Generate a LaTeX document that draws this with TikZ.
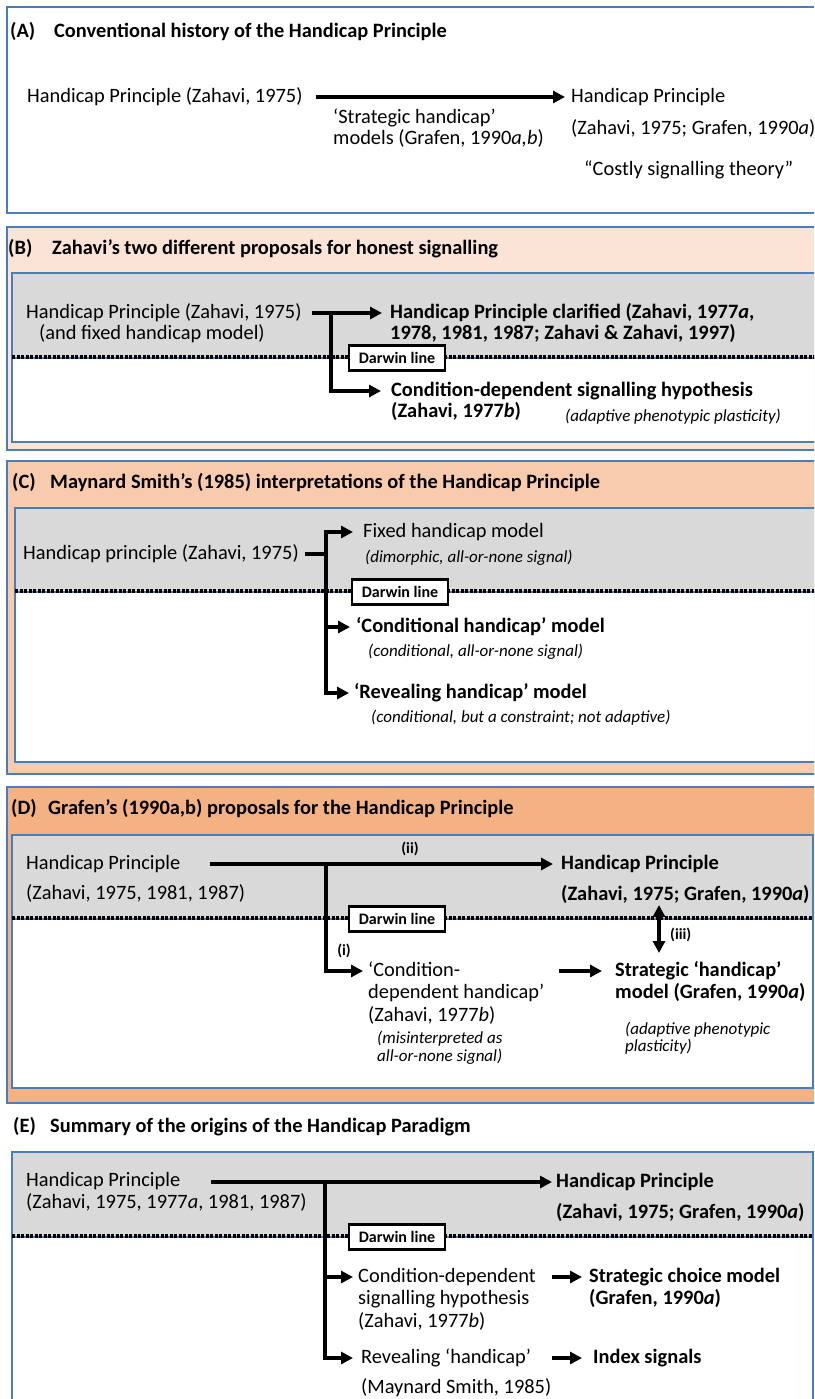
\documentclass[tikz,border=0pt]{standalone}
\usepackage{fontspec}
\setmainfont{Carlito}
\usetikzlibrary{arrows.meta}
\definecolor{bord}{HTML}{4A7EBB}
\definecolor{peachB}{HTML}{FBE3D6}
\definecolor{peachC}{HTML}{F8CBAD}
\definecolor{peachD}{HTML}{F4B183}
\definecolor{greyb}{HTML}{D9D9D9}
\tikzset{
  txt/.style={anchor=west, inner sep=0pt, text height=15pt, text depth=4pt, font=\fontsize{20.4}{24}\selectfont},
  bld/.style={txt, font=\fontsize{20.4}{24}\selectfont\bfseries},
  ttl/.style={txt, font=\fontsize{20.4}{24}\selectfont\bfseries},
  note/.style={anchor=west, inner sep=0pt, text height=13pt, text depth=3.5pt, font=\fontsize{17}{20}\selectfont\itshape},
  lab/.style={inner sep=0pt, text height=11pt, text depth=3pt, font=\fontsize{15.5}{18}\selectfont\bfseries},
  darwin/.style={draw=black, line width=2.2pt, fill=white, minimum width=96pt, minimum height=25pt, inner sep=0pt, font=\fontsize{16}{18}\selectfont\bfseries},
  arr/.style={line width=3.4pt, line join=miter, -{Triangle[length=12pt,width=12pt]}},
  darr/.style={line width=3.4pt, {Triangle[length=12pt,width=12pt]}-{Triangle[length=12pt,width=12pt]}},
  conn/.style={line width=3.4pt},
  panel/.style={draw=bord, line width=2.2pt},
  dlineblue/.style={draw=bord, line width=2pt},
  dlinedots/.style={draw=black, line width=3.6pt, dash pattern=on 3pt off 1.5pt}
}
\begin{document}
\begin{tikzpicture}[x=1pt,y=-1pt]
\useasboundingbox (0,0) rectangle (814,1399);
\clip (0,0) rectangle (814,1399);
\fill[white] (0,0) rectangle (814,1399);

% ---------------- Panel A ----------------
\draw[panel, fill=white] (7,7) rectangle (840,213);
\node[ttl] (tA) at (10,32) {\makebox[44pt][l]{(A)}Conventional history of the Handicap Principle};
\node[txt] (a1) at (27,97) {Handicap Principle (Zahavi, 1975)};
\node[txt] (a2) at (571,97) {Handicap Principle};
\node[txt] (a3) at (571,129) {(Zahavi, 1975; Grafen, 1990\textit{a})};
\node[txt] (a4) at (333,118) {‘Strategic handicap’};
\node[txt] (a5) at (333,139) {models (Grafen, 1990\textit{a,b})};
\node[txt] (a6) at (584,170) {“Costly signalling theory”};
\draw[arr] ([xshift=13pt]a1.east) -- ([xshift=-6pt]a2.west);

% ---------------- Panel B ----------------
\draw[panel, fill=peachB] (7,227) rectangle (840,450);
\node[ttl] (tB) at (8,249) {\makebox[44pt][l]{(B)}Zahavi’s two different proposals for honest signalling};
\fill[white] (12,273) rectangle (820,442);
\fill[greyb] (12,273) rectangle (820,357);
\draw[panel] (12,273) rectangle (820,442);
\draw[dlineblue] (12,358) -- (820,358);
\draw[dlinedots] (12,357) -- (820,357);
\node[txt] (b1) at (26,313) {Handicap Principle (Zahavi, 1975)};
\node[txt] (b2) at (39,334) {(and fixed handicap model)};
\node[bld] (b3) at (390,313) {Handicap Principle clarified (Zahavi, 1977\textit{a},};
\node[bld] (b4) at (390,334) {1978, 1981, 1987; Zahavi \& Zahavi, 1997)};
\node[bld] (b5) at (391,391) {Condition-dependent signalling hypothesis};
\node[bld] (b6) at (391,412) {(Zahavi, 1977\textit{b})};
\node[note] (b7) at (565,417) {(adaptive phenotypic plasticity)};
\coordinate (jB) at (331,313);
\draw[arr] ([xshift=10pt]b1.east) -- ([xshift=-8pt]b3.west);
\draw[arr] (jB) |- ([xshift=-10pt]b5.west);
\node[darwin] (dB) at (397,358) {Darwin line};

% ---------------- Panel C ----------------
\draw[panel, fill=peachC] (7,461) rectangle (840,774);
\node[ttl] (tC) at (12,483) {\makebox[38pt][l]{(C)}Maynard Smith’s (1985) interpretations of the Handicap Principle};
\fill[white] (15,508) rectangle (820,762);
\fill[greyb] (15,508) rectangle (820,591);
\draw[panel] (15,508) rectangle (820,762);
\draw[dlineblue] (15,592) -- (820,592);
\draw[dlinedots] (15,591) -- (820,591);
\node[txt] (c1) at (23,554) {Handicap principle (Zahavi, 1975)};
\node[txt] (c2) at (363,532) {Fixed handicap model};
\node[note] (c3) at (365,558) {(dimorphic, all-or-none signal)};
\node[bld] (c4) at (356,627) {‘Conditional handicap’ model};
\node[note] (c5) at (368,652) {(conditional, all-or-none signal)};
\node[bld] (c6) at (354,693) {‘Revealing handicap’ model};
\node[note] (c7) at (371,718) {(conditional, but a constraint; not adaptive)};
\coordinate (jC) at (326,554);
\draw[conn] ([xshift=6pt]c1.east) -- ([xshift=1.7pt]jC);
\draw[arr] (jC) |- ([xshift=-10pt]c2.west);
\draw[arr] (jC) |- ([xshift=-6pt]c4.west);
\draw[arr] (jC) |- ([xshift=-5pt]c6.west);
\node[darwin] (dC) at (400,592) {Darwin line};

% ---------------- Panel D ----------------
\draw[panel, fill=peachD] (7,787) rectangle (840,1103);
\node[ttl] (tD) at (11,809) {\makebox[37pt][l]{(D)}Grafen’s (1990a,b) proposals for the Handicap Principle};
\fill[white] (12,835) rectangle (813,1088);
\fill[greyb] (12,835) rectangle (813,918);
\draw[panel] (12,835) rectangle (813,1088);
\draw[dlineblue] (12,919) -- (813,919);
\draw[dlinedots] (12,918) -- (813,918);
\node[txt] (d1) at (26,864) {Handicap Principle};
\node[txt] (d2) at (26,894) {(Zahavi, 1975, 1981, 1987)};
\node[bld] (d3) at (561,864) {Handicap Principle};
\node[bld] (d4) at (561,895) {(Zahavi, 1975; Grafen, 1990\textit{a})};
\node[txt] (d5) at (368,971) {‘Condition-};
\node[txt] (d6) at (368,993) {dependent handicap’};
\node[txt] (d7) at (368,1016) {(Zahavi, 1977\textit{b})};
\node[note] (d8) at (377,1039) {(misinterpreted as};
\node[note] (d9) at (377,1057) {all-or-none signal)};
\node[bld] (d10) at (615,971) {Strategic ‘handicap’};
\node[bld] (d11) at (615,993) {model (Grafen, 1990\textit{a})};
\node[note] (d12) at (625,1030) {(adaptive phenotypic};
\node[note] (d13) at (625,1047) {plasticity)};
\node[lab] (dii) at (410,849) {(ii)};
\node[lab] (di) at (344,951) {(i)};
\node[lab, anchor=west] (diii) at (670,935) {(iii)};
\coordinate (jD) at (326,864);
\draw[arr] ([xshift=30pt]d1.east) -- ([xshift=-8pt]d3.west);
\draw[arr] (jD) |- ([xshift=-5pt]d5.west);
\draw[arr] ([xshift=15pt]d6.east |- d10.west) -- ([xshift=-13pt]d10.west);
\coordinate (dT) at (659,905);
\coordinate (dBt) at (659,953);
\draw[darr] (dT) -- (dBt);
\node[darwin] (dD) at (397,919) {Darwin line};

% ---------------- Panel E ----------------
\node[ttl] (tE) at (13,1127) {\makebox[37pt][l]{(E)}Summary of the origins of the Handicap Paradigm};
\fill[white] (12,1152) rectangle (813,1420);
\fill[greyb] (12,1152) rectangle (813,1236);
\draw[panel] (12,1152) rectangle (813,1420);
\draw[dlineblue] (12,1237) -- (813,1237);
\draw[dlinedots] (12,1236) -- (813,1236);
\node[txt] (e1) at (26,1181) {Handicap Principle};
\node[txt] (e2) at (26,1203) {(Zahavi, 1975, 1977\textit{a}, 1981, 1987)};
\node[bld] (e3) at (556,1182) {Handicap Principle};
\node[bld] (e4) at (556,1213) {(Zahavi, 1975; Grafen, 1990\textit{a})};
\node[txt] (e5) at (358,1277) {Condition-dependent};
\node[txt] (e6) at (358,1299) {signalling hypothesis};
\node[txt] (e7) at (358,1322) {(Zahavi, 1977\textit{b})};
\node[txt] (e8) at (361,1358) {Revealing ‘handicap’};
\node[txt] (e9) at (361,1388) {(Maynard Smith, 1985)};
\node[bld] (e10) at (589,1277) {Strategic choice model};
\node[bld] (e11) at (589,1299) {(Grafen, 1990\textit{a})};
\node[bld] (e12) at (593,1358) {Index signals};
\coordinate (jE) at (325,1182);
\draw[arr] ([xshift=31pt]e1.east |- e3.west) -- ([xshift=-4pt]e3.west);
\draw[arr] (jE) |- ([xshift=-5pt]e5.west);
\draw[arr] (jE) |- ([xshift=-8pt]e8.west);
\draw[arr] ([xshift=-37pt]e10.west) -- ([xshift=-7pt]e10.west);
\draw[arr] ([xshift=-41pt]e12.west) -- ([xshift=-11pt]e12.west);
\node[darwin] (dE) at (397,1237) {Darwin line};
\end{tikzpicture}
\end{document}
